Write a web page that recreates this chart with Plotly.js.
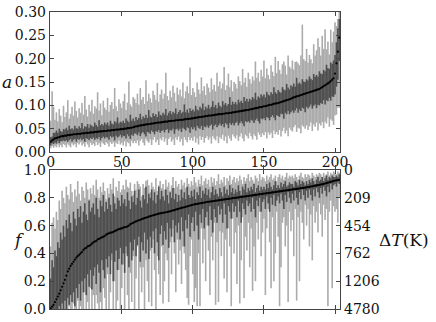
<!DOCTYPE html>
<html>
<head>
<meta charset="utf-8">
<script src="https://cdn.plot.ly/plotly-3.0.1.min.js"></script>
<style>
body { margin: 0; background: #fff; }
#graph { width: 436px; height: 322px; }
</style>
</head>
<body>
<div id="graph"></div>
<script>
// top panel: a, sorted. errors are +/- offsets from the median
let A_MED = [
  .022,.025,.027,.029,.030,.031,.032,.033,.034,.034,
  .035,.035,.036,.036,.037,.037,.038,.038,.038,.039,
  .039,.039,.040,.040,.040,.041,.041,.041,.042,.042,
  .042,.043,.043,.043,.044,.044,.044,.045,.045,.045,
  .046,.046,.046,.047,.047,.047,.048,.048,.048,.049,
  .049,.049,.050,.050,.051,.051,.052,.052,.053,.054,
  .055,.055,.056,.057,.057,.058,.058,.059,.059,.060,
  .060,.061,.061,.062,.062,.063,.063,.063,.064,.064,
  .065,.065,.065,.066,.066,.067,.067,.067,.068,.068,
  .068,.069,.069,.069,.070,.070,.071,.071,.071,.072,
  .072,.073,.073,.074,.074,.075,.075,.076,.076,.077,
  .077,.078,.078,.078,.079,.079,.080,.080,.081,.081,
  .081,.082,.082,.083,.083,.083,.084,.084,.085,.085,
  .086,.086,.087,.087,.088,.088,.089,.089,.090,.090,
  .091,.092,.092,.093,.094,.094,.095,.096,.096,.097,
  .098,.098,.099,.100,.101,.101,.102,.103,.104,.104,
  .105,.106,.107,.108,.109,.110,.111,.112,.113,.114,
  .116,.117,.118,.119,.120,.121,.122,.123,.124,.125,
  .126,.127,.128,.129,.130,.131,.132,.133,.134,.135,
  .137,.139,.141,.143,.145,.147,.149,.152,.155,.158,
  .168,.190,.215,.245
]
let A_LIGHT_UP = [
  .045,.105,.070,.040,.055,.035,.060,.045,.030,.065,
  .040,.050,.075,.035,.045,.060,.040,.070,.050,.035,
  .055,.045,.065,.040,.080,.050,.035,.060,.045,.070,
  .040,.055,.050,.085,.045,.060,.035,.065,.050,.045,
  .070,.040,.055,.060,.045,.090,.050,.040,.065,.055,
  .045,.060,.075,.040,.055,.100,.050,.045,.065,.060,
  .050,.070,.045,.080,.055,.060,.045,.095,.050,.065,
  .055,.045,.070,.060,.050,.085,.045,.060,.070,.050,
  .060,.105,.055,.045,.065,.050,.075,.060,.040,.070,
  .055,.065,.050,.080,.045,.060,.070,.055,.110,.050,
  .065,.055,.045,.075,.060,.050,.085,.055,.065,.045,
  .070,.060,.050,.080,.055,.065,.050,.090,.060,.070,
  .055,.065,.100,.050,.060,.085,.055,.070,.045,.065,
  .060,.050,.075,.065,.055,.090,.060,.070,.050,.080,
  .065,.055,.070,.060,.100,.065,.075,.055,.080,.065,
  .098,.060,.080,.065,.055,.085,.070,.060,.100,.065,
  .090,.070,.060,.080,.085,.075,.055,.095,.070,.065,
  .080,.060,.075,.075,.070,.065,.085,.150,.075,.070,
  .095,.065,.080,.070,.060,.100,.075,.085,.110,.090,
  .070,.110,.080,.120,.075,.090,.060,.110,.080,.100,
  .110,.080,.070,.060
]
let A_LIGHT_DN = [
  .014,.012,.018,.016,.020,.015,.022,.018,.024,.017,
  .020,.025,.018,.022,.027,.019,.024,.021,.028,.020,
  .023,.018,.026,.022,.029,.020,.025,.031,.022,.027,
  .024,.030,.021,.028,.025,.033,.023,.027,.030,.024,
  .028,.034,.025,.030,.026,.036,.028,.031,.024,.033,
  .029,.035,.027,.038,.030,.032,.040,.028,.034,.031,
  .036,.030,.042,.033,.029,.038,.044,.031,.036,.040,
  .033,.046,.035,.030,.041,.037,.048,.034,.039,.032,
  .043,.036,.050,.038,.034,.045,.040,.052,.037,.042,
  .035,.047,.041,.055,.038,.044,.050,.039,.046,.042,
  .048,.040,.053,.045,.058,.041,.049,.044,.056,.047,
  .043,.052,.047,.060,.045,.050,.055,.046,.062,.049,
  .053,.045,.058,.050,.064,.048,.055,.060,.047,.052,
  .057,.050,.063,.054,.048,.059,.066,.052,.056,.061,
  .050,.058,.065,.055,.060,.068,.053,.059,.064,.057,
  .062,.055,.070,.058,.064,.060,.072,.057,.066,.061,
  .068,.059,.074,.063,.057,.070,.065,.078,.061,.067,
  .072,.064,.060,.076,.068,.071,.082,.066,.070,.075,
  .069,.080,.073,.066,.085,.072,.078,.070,.088,.074,
  .080,.075,.090,.078,.084,.073,.095,.082,.088,.100,
  .090,.110,.120,.150
]
let A_DARK_UP = [
  .010,.008,.014,.012,.016,.010,.018,.012,.009,.015,
  .013,.017,.011,.020,.012,.014,.010,.018,.013,.011,
  .016,.012,.022,.010,.015,.013,.019,.011,.017,.014,
  .012,.020,.015,.011,.024,.013,.016,.012,.018,.014,
  .017,.011,.021,.014,.012,.019,.015,.026,.013,.016,
  .014,.018,.012,.022,.016,.013,.028,.015,.019,.012,
  .020,.014,.017,.025,.013,.018,.015,.021,.014,.030,
  .016,.013,.022,.015,.019,.012,.024,.017,.014,.020,
  .015,.027,.013,.018,.022,.014,.019,.016,.025,.013,
  .018,.021,.014,.017,.032,.015,.020,.013,.023,.016,
  .019,.014,.026,.017,.015,.022,.018,.028,.014,.020,
  .016,.023,.015,.019,.030,.017,.021,.014,.025,.018,
  .015,.027,.019,.022,.016,.020,.034,.017,.023,.018,
  .021,.016,.025,.019,.022,.017,.029,.020,.024,.018,
  .023,.019,.026,.021,.033,.018,.024,.020,.028,.022,
  .025,.019,.030,.023,.020,.027,.022,.036,.024,.021,
  .028,.023,.020,.031,.025,.022,.035,.026,.021,.029,
  .024,.030,.022,.040,.026,.028,.023,.033,.027,.025,
  .030,.026,.034,.028,.024,.036,.029,.032,.027,.038,
  .031,.028,.035,.030,.042,.033,.029,.040,.034,.038,
  .040,.045,.050,.040
]
let A_DARK_DN = [
  .008,.006,.010,.009,.012,.008,.013,.010,.011,.009,
  .012,.010,.014,.011,.009,.015,.012,.010,.016,.011,
  .013,.010,.015,.012,.018,.011,.013,.016,.012,.014,
  .011,.017,.013,.015,.012,.019,.014,.012,.016,.013,
  .015,.020,.012,.016,.014,.022,.013,.017,.015,.012,
  .018,.014,.016,.021,.013,.017,.024,.015,.018,.014,
  .016,.019,.014,.023,.017,.015,.020,.026,.016,.018,
  .021,.015,.018,.024,.017,.020,.016,.022,.019,.017,
  .023,.018,.016,.025,.019,.021,.017,.028,.020,.018,
  .022,.019,.026,.017,.021,.024,.018,.020,.030,.019,
  .023,.020,.027,.018,.022,.025,.019,.029,.021,.024,
  .020,.026,.022,.019,.031,.023,.021,.027,.024,.020,
  .025,.022,.029,.021,.024,.032,.022,.026,.023,.028,
  .024,.021,.030,.025,.022,.027,.034,.023,.026,.024,
  .028,.023,.025,.031,.026,.022,.029,.035,.024,.027,
  .025,.030,.024,.027,.033,.026,.023,.029,.036,.025,
  .028,.031,.025,.027,.038,.026,.030,.024,.032,.029,
  .027,.033,.029,.025,.036,.030,.034,.028,.031,.040,
  .029,.034,.031,.027,.037,.032,.030,.039,.033,.035,
  .032,.036,.030,.041,.034,.038,.033,.042,.036,.040,
  .045,.050,.060,.050
]

// bottom panel: f, same ordering. errors given as lower / upper bounds
let F_MED = [
  .005,.018,.030,.050,.070,.090,.110,.135,.160,.185,
  .210,.240,.270,.290,.310,.325,.340,.355,.370,.380,
  .390,.400,.410,.425,.435,.440,.450,.455,.460,.470,
  .480,.485,.490,.500,.505,.510,.515,.520,.525,.535,
  .540,.545,.550,.550,.555,.560,.565,.570,.575,.578,
  .580,.585,.588,.590,.595,.600,.610,.615,.620,.625,
  .630,.635,.638,.642,.646,.650,.654,.657,.660,.664,
  .668,.671,.674,.677,.680,.683,.686,.688,.690,.692,
  .694,.696,.698,.700,.703,.706,.709,.712,.715,.718,
  .721,.724,.727,.730,.732,.735,.738,.741,.744,.747,
  .750,.752,.754,.756,.758,.760,.762,.764,.766,.768,
  .770,.771,.773,.774,.776,.777,.779,.780,.782,.783,
  .785,.786,.788,.789,.791,.792,.794,.795,.797,.798,
  .800,.801,.803,.804,.806,.807,.809,.810,.812,.813,
  .815,.816,.818,.819,.821,.822,.824,.825,.827,.828,
  .830,.831,.833,.834,.836,.837,.839,.840,.842,.843,
  .845,.846,.848,.849,.851,.852,.854,.855,.857,.858,
  .860,.861,.863,.864,.866,.867,.869,.870,.872,.873,
  .875,.877,.879,.881,.883,.885,.887,.889,.891,.893,
  .895,.898,.900,.903,.906,.909,.912,.915,.918,.921,
  .924,.926,.928,.930
]
let F_LIGHT_LO = [
  0,0,0,0,0,0,0,0,0,0,
  0,0,0,.02,0,0,.04,0,0,.06,
  0,.02,0,0,.12,0,.05,0,.15,0,
  .10,0,.10,.04,0,.05,0,.15,.08,0,
  .25,0,.12,.35,0,.20,0,.06,.28,0,
  .15,.32,0,.40,.10,0,.26,.05,.38,0,
  .22,.45,0,.30,.12,.30,0,.35,.20,.05,
  .42,.02,.50,.28,0,.38,.25,.10,.45,.04,
  .20,.40,.35,.05,.48,.25,.58,.40,.12,.50,
  .32,.42,.18,.45,.40,.28,.08,.03,.38,.50,
  .25,.05,.15,.02,.40,.02,.58,.33,.50,.20,
  .60,.42,.10,.52,.35,.62,.03,.48,.05,.56,
  .38,.55,.22,.50,.12,.58,.45,.02,.65,.40,
  .55,.18,.60,.04,.35,.66,.08,.52,.42,.62,
  .30,.58,.13,.45,.20,.62,.50,.70,.38,.55,
  .65,.10,.58,.72,.48,.15,.66,.20,.40,.70,
  .52,.02,.30,.62,.66,.45,.60,.05,.70,.56,
  .64,.38,.72,.06,.66,.20,.70,.62,.50,.75,
  .60,.72,.45,.68,.35,.74,.62,.70,.55,.76,
  .68,.52,.75,.64,.72,.02,.70,.78,.15,.74,
  .70,.72,.62,.80
]
let F_LIGHT_HI = [
  .45,.62,.66,.58,.70,.64,.78,.72,.85,.80,
  .76,.88,.82,.79,.90,.84,.77,.86,.81,.92,
  .83,.78,.88,.85,.80,.91,.86,.79,.87,.83,
  .89,.82,.93,.86,.80,.88,.84,.91,.85,.79,
  .87,.83,.90,.86,.94,.81,.88,.85,.92,.84,
  .86,.89,.86,.93,.88,.87,.91,.85,.82,.90,
  .86,.92,.90,.88,.81,.90,.87,.92,.93,.89,
  .84,.91,.88,.86,.94,.85,.89,.92,.87,.90,
  .86,.93,.88,.91,.85,.89,.95,.87,.92,.88,
  .90,.86,.93,.89,.91,.87,.94,.90,.88,.92,
  .89,.95,.91,.88,.93,.90,.96,.89,.92,.94,
  .90,.93,.88,.95,.91,.94,.89,.92,.97,.90,
  .93,.91,.95,.89,.94,.92,.96,.90,.93,.95,
  .91,.94,.92,.96,.93,.90,.95,.92,.94,.97,
  .92,.95,.93,.91,.96,.94,.92,.97,.93,.95,
  .94,.92,.96,.93,.95,.97,.93,.94,.96,.92,
  .95,.97,.94,.96,.93,.95,.98,.94,.96,.95,
  .96,.94,.97,.95,.93,.96,.98,.95,.94,.97,
  .95,.97,.96,.94,.98,.96,.95,.97,.96,.98,
  .97,.95,.98,.96,.97,.99,.96,.98,.97,.99,
  .98,.97,.99,.98
]
let F_DARK_LO = [
  0,0,0,0,0,0,.02,0,.04,0,
  .06,0,.08,.03,.10,.05,.12,.02,.15,.08,
  .18,.06,.20,.12,.22,.10,.25,.16,.28,.14,
  .24,.30,.18,.32,.26,.12,.35,.28,.22,.36,
  .30,.38,.25,.40,.20,.34,.42,.28,.36,.44,
  .32,.40,.26,.45,.38,.30,.48,.35,.42,.50,
  .38,.46,.52,.34,.48,.42,.55,.40,.50,.36,
  .52,.44,.56,.40,.58,.48,.35,.54,.60,.46,
  .56,.50,.62,.44,.58,.52,.64,.48,.60,.55,
  .62,.50,.66,.56,.45,.64,.58,.68,.52,.62,
  .66,.56,.70,.60,.50,.68,.62,.72,.58,.66,
  .70,.60,.74,.64,.55,.72,.66,.62,.74,.68,
  .72,.62,.76,.68,.58,.74,.70,.65,.76,.70,
  .74,.66,.78,.70,.62,.76,.72,.68,.78,.74,
  .76,.70,.80,.72,.66,.78,.74,.80,.70,.77,
  .79,.72,.81,.76,.70,.80,.75,.82,.74,.78,
  .81,.76,.83,.78,.72,.82,.77,.84,.80,.76,
  .83,.78,.85,.80,.75,.84,.79,.86,.82,.78,
  .85,.80,.86,.82,.78,.86,.81,.87,.84,.80,
  .87,.83,.88,.85,.81,.88,.84,.90,.86,.89,
  .90,.88,.91,.90
]
let F_DARK_HI = [
  .22,.35,.30,.42,.38,.48,.44,.55,.50,.60,
  .52,.64,.58,.68,.62,.56,.70,.65,.60,.72,
  .66,.74,.62,.70,.76,.68,.64,.78,.70,.73,
  .76,.68,.80,.72,.66,.78,.74,.82,.70,.77,
  .72,.80,.75,.70,.83,.76,.72,.80,.78,.74,
  .82,.76,.79,.74,.84,.78,.72,.81,.77,.85,
  .75,.80,.86,.78,.73,.82,.79,.88,.76,.83,
  .80,.86,.78,.84,.76,.82,.88,.79,.85,.81,
  .78,.86,.82,.76,.84,.80,.87,.79,.83,.77,
  .82,.78,.86,.80,.84,.79,.88,.82,.80,.85,
  .81,.86,.79,.84,.82,.88,.80,.85,.83,.87,
  .82,.86,.80,.84,.88,.82,.86,.83,.81,.87,
  .84,.81,.88,.83,.86,.82,.89,.84,.87,.83,
  .86,.84,.89,.85,.82,.88,.86,.90,.84,.87,
  .85,.88,.86,.90,.84,.87,.89,.85,.88,.86,
  .88,.86,.90,.87,.91,.88,.86,.89,.92,.87,
  .89,.87,.91,.88,.90,.92,.88,.89,.91,.90,
  .90,.88,.92,.91,.89,.93,.90,.92,.91,.89,
  .92,.90,.93,.91,.94,.92,.90,.93,.95,.92,
  .93,.95,.92,.94,.96,.93,.95,.94,.96,.95,
  .95,.96,.95,.97
]

let X_TICKS = [0, 50, 100, 150, 200]
let F_TICKS = [1, 0.8, 0.6, 0.4, 0.2, 0]
let DT_LABELS = ["0", "209", "454", "762", "1206", "4780"]

let LIGHT = "#ababab"
let DARK = "#4f4f4f"
let FRAME = "#444"
let FONT = { family: "DejaVu Serif, serif", size: 14, color: "#111" }
let TITLE_FONT = { family: "DejaVu Serif, serif", size: 17, color: "#111" }

function err_trace(med, plus, minus, color, xa, ya) {
  return {
    x: med.map((v, i) => i),
    y: med,
    xaxis: xa, yaxis: ya,
    type: "scatter", mode: "markers",
    marker: { size: 1, color: "rgba(0,0,0,0)" },
    error_y: {
      type: "data", symmetric: false,
      array: plus, arrayminus: minus,
      color: color, thickness: 1.6, width: 0
    },
    hoverinfo: "skip", showlegend: false
  }
}

function dots(med, xa, ya) {
  return {
    x: med.map((v, i) => i),
    y: med,
    xaxis: xa, yaxis: ya,
    type: "scatter", mode: "markers",
    marker: { size: 2.2, color: "#000" },
    showlegend: false
  }
}

function label(text, x, y) {
  return { text: text, x: x, y: y, xref: "paper", yref: "paper",
    xanchor: "center", yanchor: "middle", showarrow: false, font: TITLE_FONT }
}

function show_graph() {
  let f_light_up = F_LIGHT_HI.map((v, i) => v - F_MED[i])
  let f_light_dn = F_LIGHT_LO.map((v, i) => F_MED[i] - v)
  let f_dark_up = F_DARK_HI.map((v, i) => v - F_MED[i])
  let f_dark_dn = F_DARK_LO.map((v, i) => F_MED[i] - v)

  let data = [
    err_trace(A_MED, A_LIGHT_UP, A_LIGHT_DN, LIGHT, "x", "y"),
    err_trace(A_MED, A_DARK_UP, A_DARK_DN, DARK, "x", "y"),
    dots(A_MED, "x", "y"),
    err_trace(F_MED, f_light_up, f_light_dn, LIGHT, "x2", "y2"),
    err_trace(F_MED, f_dark_up, f_dark_dn, DARK, "x2", "y2"),
    dots(F_MED, "x2", "y2")
  ]

  // right hand ΔT axis needs something on it to be drawn
  data.push({ x: [0], y: [0], xaxis: "x2", yaxis: "y3", type: "scatter",
    mode: "markers", marker: { size: 1, color: "rgba(0,0,0,0)" },
    hoverinfo: "skip", showlegend: false })

  let frame = {
    showline: true, linecolor: FRAME, linewidth: 1.2, mirror: "allticks",
    ticks: "inside", ticklen: 4, tickcolor: FRAME,
    showgrid: false, zeroline: false, tickfont: FONT
  }

  let layout = {
    width: 436, height: 322,
    margin: { l: 50, r: 96, t: 12, b: 13 },
    paper_bgcolor: "#fff", plot_bgcolor: "#fff",
    xaxis: Object.assign({}, frame, {
      domain: [0, 1], anchor: "y", range: [-0.5, 203.5],
      tickvals: X_TICKS, ticklabelstandoff: -3
    }),
    yaxis: Object.assign({}, frame, {
      domain: [0.5286, 1], anchor: "x", range: [0, 0.30],
      dtick: 0.05, tickformat: ".2f"
    }),
    xaxis2: Object.assign({}, frame, {
      domain: [0, 1], anchor: "y2", range: [-0.5, 203.5],
      tickvals: X_TICKS, showticklabels: false
    }),
    yaxis2: Object.assign({}, frame, {
      domain: [0, 0.468], anchor: "x2", range: [0, 1],
      dtick: 0.2, tickformat: ".1f"
    }),
    yaxis3: {
      overlaying: "y2", side: "right", anchor: "x2", range: [0, 1],
      tickvals: F_TICKS, ticktext: DT_LABELS, ticklabelstandoff: 3,
      ticks: "", showline: false, showgrid: false, zeroline: false,
      tickfont: FONT
    },
    annotations: [
      label("<i>a</i>", -0.148, 0.764),
      label("<i>f</i>", -0.109, 0.232),
      label("Δ<i>T</i>(K)", 1.221, 0.232)
    ]
  }

  Plotly.newPlot("graph", data, layout, { staticPlot: true })
}

show_graph()
</script>
</body>
</html>
